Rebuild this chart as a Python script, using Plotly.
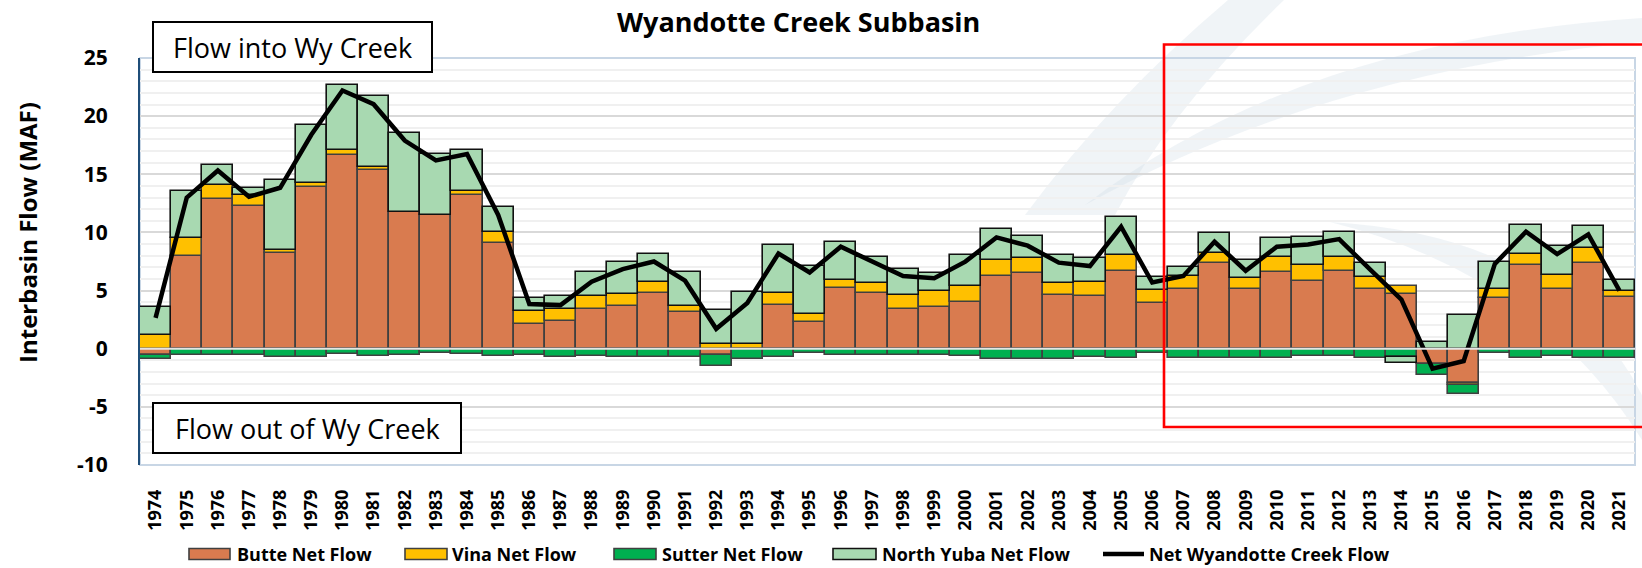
import plotly.graph_objects as go

years = list(range(1974, 2022))
butte = [-0.5, 7.99, 12.84, 12.27, 8.22, 13.93, 16.64, 15.41, 11.79, 11.47, 13.2, 9.05,
         2.1, 2.41, 3.42, 3.65, 4.79, 3.14, -0.57, 0.0, 3.8, 2.34, 5.23, 4.83,
         3.38, 3.6, 3.98, 6.26, 6.54, 4.6, 4.52, 6.71, 3.89, 5.12, 7.34, 5.1,
         6.63, 5.86, 6.71, 5.17, 4.74, -1.34, -2.91, 4.36, 7.2, 5.11, 7.34, 4.43]
vina = [1.15, 1.57, 1.23, 0.91, 0.28, 0.28, 0.43, 0.23, -0.1, 0.05, 0.4, 0.95,
        1.14, 1.0, 1.15, 1.06, 0.92, 0.57, 0.43, 0.43, 0.97, 0.66, 0.7, 0.81,
        1.22, 1.37, 1.42, 1.37, 1.29, 1.05, 1.2, 1.35, 1.2, 1.14, 0.86, 0.96,
        1.23, 1.34, 1.2, 0.97, 0.63, 0.0, -0.25, 0.74, 0.91, 1.23, 1.29, 0.55]
sutter = [-0.36, -0.5, -0.5, -0.5, -0.74, -0.74, -0.45, -0.63, -0.4, -0.35, -0.45, -0.63,
          -0.5, -0.74, -0.66, -0.74, -0.74, -0.74, -0.91, -0.86, -0.74, -0.34, -0.57, -0.57,
          -0.57, -0.57, -0.65, -0.85, -0.85, -0.85, -0.75, -0.83, -0.4, -0.77, -0.83, -0.83,
          -0.83, -0.63, -0.63, -0.77, -0.71, -0.92, -0.7, -0.4, -0.77, -0.63, -0.77, -0.77]
north_yuba = [2.45, 3.99, 1.77, 0.6, 5.97, 5.03, 5.62, 6.05, 6.76, 5.23, 3.5, 2.2,
              1.16, 1.09, 1.99, 2.79, 2.42, 2.91, 2.91, 4.42, 4.13, 4.13, 3.24, 2.27,
              2.29, 1.57, 2.66, 2.63, 1.86, 2.41, 2.11, 3.25, 1.11, 0.8, 1.71, 1.57,
              1.68, 2.43, 2.09, 1.26, -0.5, 0.57, 2.94, 2.39, 2.49, 2.49, 1.91, 0.93]
net_flow = [2.65, 12.99, 15.33, 13.07, 13.84, 18.4, 22.2, 21.03, 17.9, 16.2, 16.75, 11.5,
            3.85, 3.75, 5.76, 6.85, 7.5, 5.85, 1.71, 3.94, 8.19, 6.56, 8.77, 7.49,
            6.26, 6.06, 7.49, 9.57, 8.86, 7.4, 7.11, 10.49, 5.69, 6.26, 9.2, 6.71,
            8.77, 8.97, 9.43, 6.8, 4.23, -1.71, -1.06, 7.3, 10.06, 8.14, 9.83, 5.0]

series_names = ["Butte Net Flow", "Vina Net Flow", "Sutter Net Flow", "North Yuba Net Flow"]
line_name = "Net Wyandotte Creek Flow"
colors = ["#D97B4F", "#FFC000", "#00B050", "#A8D9B1"]
outline = ["#404040", "#404040", "#404040", "#111111"]
y_ticks = [-10, -5, 0, 5, 10, 15, 20, 25]

W, H = 1642, 568
L, R, T, B = 140, 1635, 58, 465
FONT = "Open Sans"


def px(x):
    return (x - L) / (R - L)


def py(y):
    return (B - y) / (B - T)


def path(cmds):
    out = []
    for c in cmds:
        if c == "Z":
            out.append("Z")
        else:
            letter, pts = c[0], c[1:]
            out.append(letter + " ".join("%.5f,%.5f" % (px(a), py(b)) for a, b in pts))
    return " ".join(out)


fig = go.Figure()
for name, vals, c, oc in zip(series_names, [butte, vina, sutter, north_yuba], colors, outline):
    fig.add_trace(go.Bar(x=years, y=vals, name=name, marker=dict(color=c, line=dict(color=oc, width=1.6)),
                         showlegend=False))
fig.add_trace(go.Scatter(x=years, y=net_flow, name=line_name, mode="lines",
                         line=dict(color="black", width=4.5), showlegend=False))

shapes = []
# faint background watermark swooshes
wm = "rgba(205,217,230,0.30)"
shapes.append(dict(type="path", xref="paper", yref="paper", layer="below", fillcolor=wm, line=dict(width=0),
                   path=path([("M", (1025, 215)), ("Q", (1110, 100), (1228, 0)), ("L", (1284, 0)),
                              ("Q", (1170, 110), (1115, 215)), "Z"])))
shapes.append(dict(type="path", xref="paper", yref="paper", layer="below", fillcolor=wm, line=dict(width=0),
                   path=path([("M", (1085, 205)), ("Q", (1300, 40), (1642, 18)), ("L", (1642, 42)),
                              ("Q", (1330, 70), (1085, 205)), "Z"])))
shapes.append(dict(type="path", xref="paper", yref="paper", layer="below", fillcolor=wm, line=dict(width=0),
                   path=path([("M", (1330, 222)), ("Q", (1560, 235), (1642, 395)), ("L", (1642, 440)),
                              ("Q", (1540, 275), (1330, 222)), "Z"])))
# zero line above bars
shapes.append(dict(type="line", xref="paper", yref="y", x0=0, x1=1, y0=0, y1=0,
                   line=dict(color="#e4e4e4", width=2), layer="above"))
# plot border
shapes.append(dict(type="rect", xref="paper", yref="paper", x0=0, x1=1, y0=0, y1=1,
                   line=dict(color="#c8d6e5", width=2), layer="below"))
# text boxes
shapes.append(dict(type="rect", xref="paper", yref="paper", x0=px(153), x1=px(432), y0=py(72), y1=py(22),
                   line=dict(color="black", width=2), fillcolor="white", layer="above"))
shapes.append(dict(type="rect", xref="paper", yref="paper", x0=px(153), x1=px(461), y0=py(453), y1=py(403),
                   line=dict(color="black", width=2), fillcolor="white", layer="above"))
# red highlight rectangle
shapes.append(dict(type="rect", xref="paper", yref="paper", x0=px(1164), x1=px(1665), y0=py(427), y1=py(44.5),
                   line=dict(color="#ff0000", width=2.6), layer="above"))

annotations = []
annotations.append(dict(text="<b>Wyandotte Creek Subbasin</b>", xref="paper", yref="paper",
                        x=px(798), y=py(22), xanchor="center", yanchor="middle", showarrow=False,
                        font=dict(family=FONT, size=27, color="black")))
annotations.append(dict(text="<b>Interbasin Flow (MAF)</b>", xref="paper", yref="paper",
                        x=px(28), y=py(233), xanchor="center", yanchor="middle", showarrow=False,
                        textangle=-90, font=dict(family=FONT, size=24, color="black")))
annotations.append(dict(text="Flow into Wy Creek", xref="paper", yref="paper",
                        x=px(292.5), y=py(47), xanchor="center", yanchor="middle", showarrow=False,
                        font=dict(family=FONT, size=27, color="black")))
annotations.append(dict(text="Flow out of Wy Creek", xref="paper", yref="paper",
                        x=px(307), y=py(428), xanchor="center", yanchor="middle", showarrow=False,
                        font=dict(family=FONT, size=27, color="black")))

# custom legend
leg_y = 554
swatches = [(189, 230, 235), (405, 447, 450), (614, 656, 660), (833, 876, 880)]
for (x0, x1, tx), name, c, oc in zip(swatches, series_names, colors, outline):
    shapes.append(dict(type="rect", xref="paper", yref="paper", x0=px(x0), x1=px(x1),
                       y0=py(leg_y + 5.5), y1=py(leg_y - 5.5), fillcolor=c,
                       line=dict(color=oc, width=1.6)))
    annotations.append(dict(text="<b>" + name + "</b>", xref="paper", yref="paper", x=px(tx), y=py(leg_y),
                            xanchor="left", yanchor="middle", showarrow=False,
                            font=dict(family=FONT, size=18, color="black")))
shapes.append(dict(type="line", xref="paper", yref="paper", x0=px(1103), x1=px(1144),
                   y0=py(leg_y), y1=py(leg_y), line=dict(color="black", width=4.5)))
annotations.append(dict(text="<b>" + line_name + "</b>", xref="paper", yref="paper", x=px(1147), y=py(leg_y),
                        xanchor="left", yanchor="middle", showarrow=False,
                        font=dict(family=FONT, size=18, color="black")))

fig.update_layout(
    width=W, height=H,
    margin=dict(l=L, r=W - R, t=T, b=H - B),
    barmode="relative", bargap=0,
    plot_bgcolor="rgba(0,0,0,0)", paper_bgcolor="white",
    shapes=shapes, annotations=annotations,
    font=dict(family=FONT, color="black"),
)
fig.update_xaxes(range=[1973.5, 2021.5], tickmode="array", tickvals=years, ticktext=[str(y) for y in years],
                 tickangle=-90, tickfont=dict(family=FONT, size=18, color="black", weight="bold"),
                 showgrid=False, zeroline=False, showline=False, ticks="", ticklabelstandoff=20)
fig.update_yaxes(range=[-10, 25], tickmode="array", tickvals=y_ticks, ticktext=[str(v) for v in y_ticks],
                 tickfont=dict(family=FONT, size=21, color="black", weight="bold"),
                 showgrid=True, gridcolor="#d9d9d9", gridwidth=2,
                 minor=dict(dtick=1, tick0=0, showgrid=True, gridcolor="#f0f0f0", gridwidth=2),
                 zeroline=False, showline=True, linecolor="#1f4e79", linewidth=2,
                 ticks="", ticklabelstandoff=26)

fig.write_html("out.html", config={"displayModeBar": False},
               post_script="document.body.style.margin='0';document.body.style.padding='0';"
                           "document.body.style.overflow='hidden';")
